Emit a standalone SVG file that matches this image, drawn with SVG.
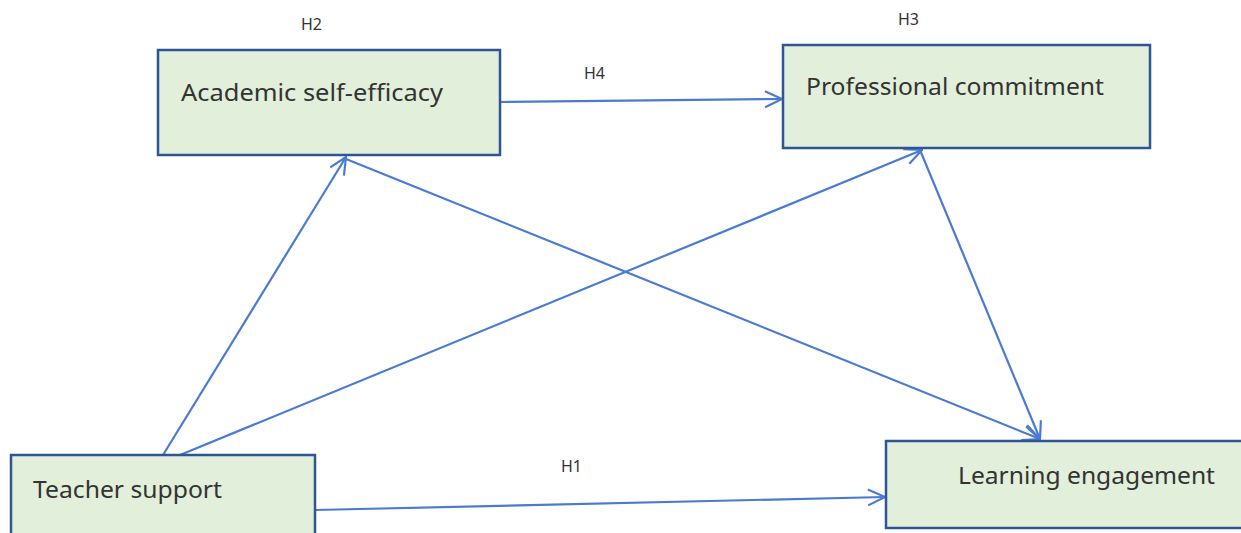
<svg xmlns="http://www.w3.org/2000/svg" width="1241" height="533" viewBox="0 0 1241 533">
<style>
.box{fill:#E2EFDA;stroke:#2F5597;stroke-width:2.5}
.lbl{font-family:"Noto Sans","Open Sans",sans-serif;font-size:24px;fill:#333}
.h{font-family:"Noto Sans","Open Sans",sans-serif;font-size:16px;fill:#333}
.c{stroke:#4A7BD0;stroke-width:2.2;fill:none;marker-end:url(#arr)}
</style>
<defs>
<marker id="arr" viewBox="0 0 20 20" refX="19" refY="10" markerWidth="20" markerHeight="20" markerUnits="userSpaceOnUse" orient="auto">
<path d="M2,2 L19,10 L2,18" fill="none" stroke="#4A7BD0" stroke-width="2.2"/>
</marker>
</defs>
<rect width="1241" height="533" fill="#fff"/>
<g id="connectors">
<line class="c" x1="500" y1="102" x2="782" y2="99"/>
<line class="c" x1="163" y1="455" x2="346" y2="157"/>
<line class="c" x1="180" y1="455" x2="922" y2="150"/>
<line class="c" x1="346" y1="159" x2="1040" y2="439"/>
<line class="c" x1="920" y1="150" x2="1040" y2="439"/>
<line class="c" x1="315" y1="510" x2="885" y2="497"/>
</g>
<g id="academic">
<rect class="box" x="158" y="50" width="342" height="105"/>
<text class="lbl" x="181" y="101" textLength="262" lengthAdjust="spacingAndGlyphs">Academic self-efficacy</text>
</g>
<g id="professional">
<rect class="box" x="783" y="45" width="367" height="103"/>
<text class="lbl" x="806" y="95" textLength="298" lengthAdjust="spacingAndGlyphs">Professional commitment</text>
</g>
<g id="teacher">
<rect class="box" x="11" y="455" width="304" height="90"/>
<text class="lbl" x="33" y="498" textLength="189" lengthAdjust="spacingAndGlyphs">Teacher support</text>
</g>
<g id="learning">
<rect class="box" x="886" y="441" width="370" height="87"/>
<text class="lbl" x="958" y="484" textLength="257" lengthAdjust="spacingAndGlyphs">Learning engagement</text>
</g>
<g id="labels">
<text class="h" x="301" y="30">H2</text>
<text class="h" x="898" y="25">H3</text>
<text class="h" x="584" y="79">H4</text>
<text class="h" x="561" y="472">H1</text>
</g>
</svg>
